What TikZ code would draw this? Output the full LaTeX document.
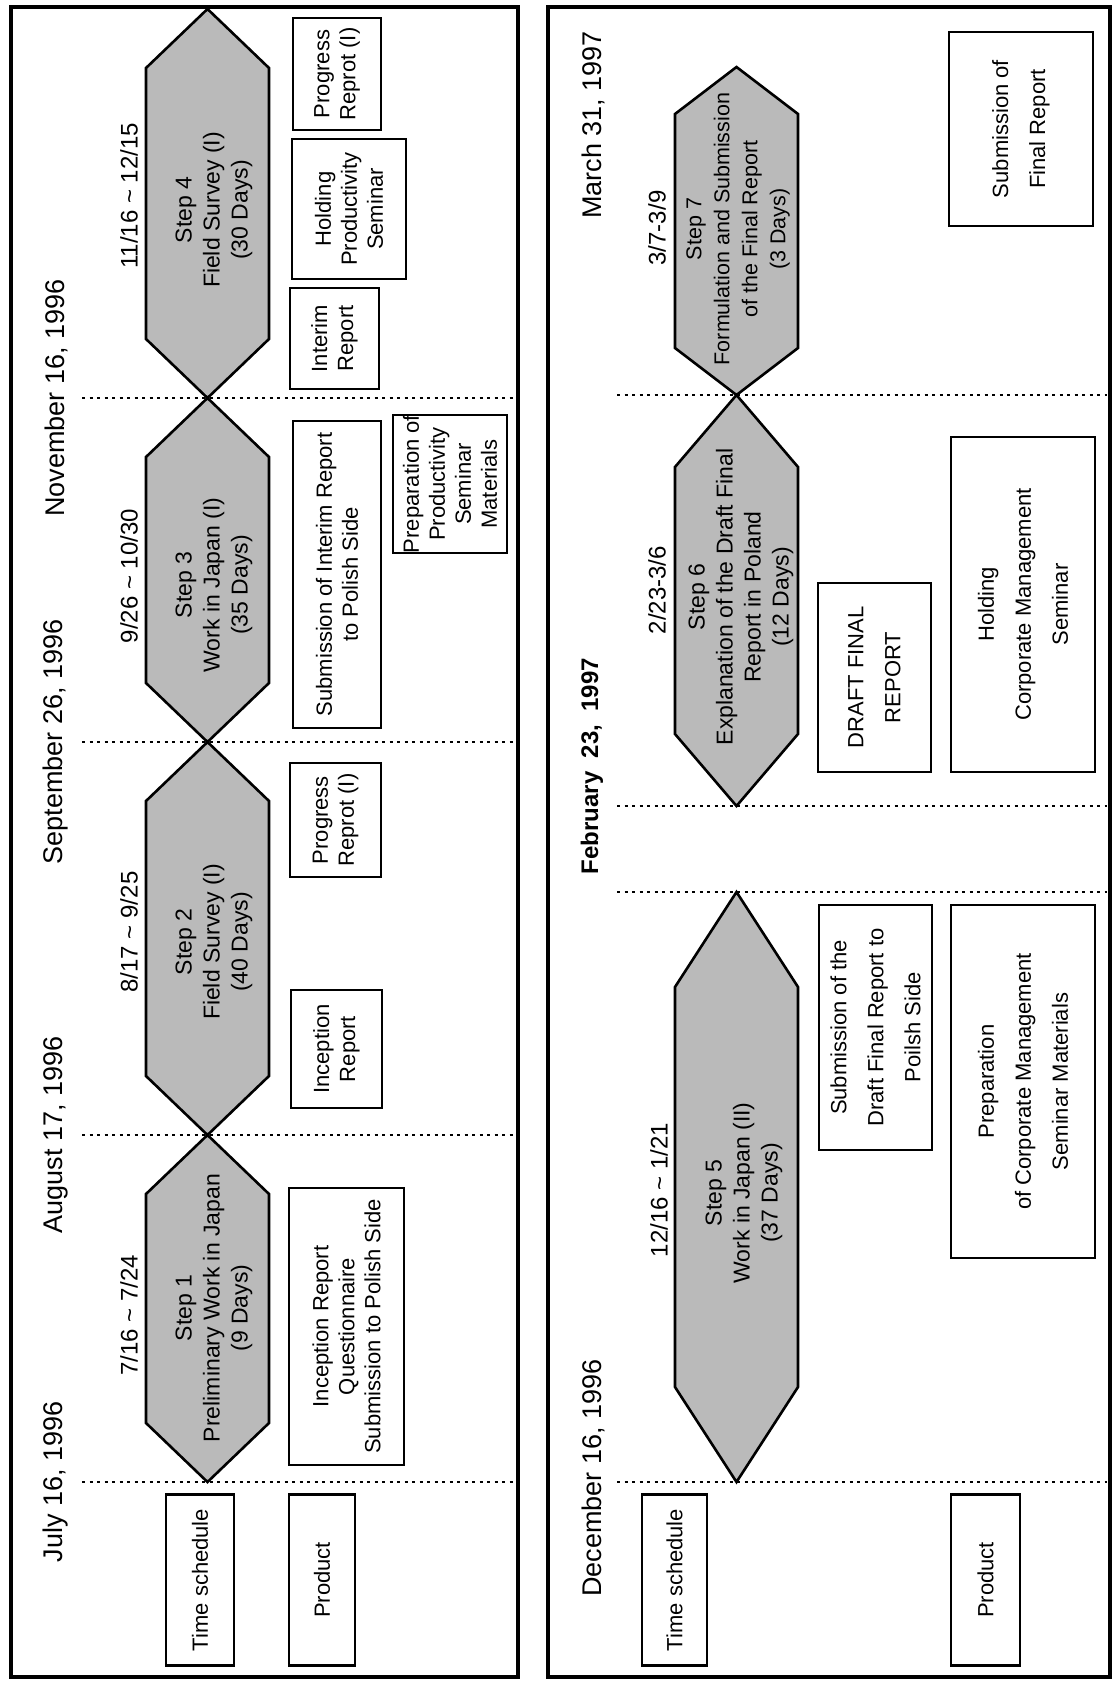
\documentclass[tikz,border=0pt]{standalone}
\usepackage{fontspec}
\setmainfont{Liberation Sans}
\newcommand\hexpath[4]{%
  \draw[hexstyle] (#1,#2) -- (#1+61.5,#2+#4) -- (#1+61.5,#3-#4) -- (#1,#3)
    -- (#1-61.5,#3-#4) -- (#1-61.5,#2+#4) -- cycle;}
\begin{document}
\begin{tikzpicture}[x=1pt,y=-1pt,
  frame/.style={line width=4pt},
  gridline/.style={line width=2.2pt, dash pattern=on 3pt off 4.5pt},
  hexstyle/.style={draw=black, line width=2.6pt, fill=black!27, line join=miter},
  hextext/.style={rotate=90, align=center, font=\fontsize{23}{28}\selectfont, inner sep=0pt},
  datetext/.style={rotate=90, font=\fontsize{27}{31}\selectfont, inner sep=0pt},
  rangetext/.style={rotate=90, font=\fontsize{24}{28}\selectfont, inner sep=0pt},
  pbox/.style={draw, line width=2.4pt, rotate=90, align=center, inner sep=0pt, font=\fontsize{22}{26}\selectfont},
  rbox/.style={pbox, font=\fontsize{22}{37}\selectfont}]
\fill[white] (0,0) rectangle (1117,1686);
\useasboundingbox (0,0) rectangle (1117,1686);
% frames
\draw[frame] (11,7) rectangle (518,1677);
\draw[frame] (548,7) rectangle (1110,1677);
% hexagons left
\hexpath{207.5}{1135}{1482}{59}
\hexpath{207.5}{742}{1135}{59}
\hexpath{207.5}{398}{742}{59}
\hexpath{207.5}{9}{398}{59}
% hexagons right
\hexpath{736.5}{892}{1482}{95}
\hexpath{736.5}{395}{806}{72}
\hexpath{736.5}{67}{395}{47}
% dotted lines
\foreach \yy in {1482,1135,742,398} \draw[gridline] (82,\yy) -- (515,\yy);
\foreach \yy in {1482,892,806,395} \draw[gridline] (617,\yy) -- (1107,\yy);
% dates
\node[datetext] (d1) at (56,1482) {July 16, 1996};
\node[datetext] (d2) at (56,1135) {August 17, 1996};
\node[datetext] (d3) at (56,742) {September 26, 1996};
\node[datetext] (d4) at (56,398) {November 16, 1996};
\node[datetext] (d5) at (593,1478) {December 16, 1996};
\node[datetext, font=\fontsize{24}{28}\selectfont\bfseries] (d6) at (592,766) {February\ \ 23,\ \ 1997};
\node[datetext] (d7) at (593,125) {March 31, 1997};
% ranges
\node[rangetext] (r1) at (129,1315) {7/16 \textasciitilde\ 7/24};
\node[rangetext] (r2) at (129,932) {8/17 \textasciitilde\ 9/25};
\node[rangetext] (r3) at (129,576) {9/26 \textasciitilde\ 10/30};
\node[rangetext] (r4) at (129,196) {11/16 \textasciitilde\ 12/15};
\node[rangetext] (r5) at (659,1190) {12/16 \textasciitilde\ 1/21};
\node[rangetext] (r6) at (657,590) {2/23-3/6};
\node[rangetext] (r7) at (657,228) {3/7-3/9};
% step texts
\node[hextext] (s1) at (214,1308) {Step 1\\Preliminary Work in Japan\\(9 Days)};
\node[hextext] (s2) at (214,942) {Step 2\\Field Survey (I)\\(40 Days)};
\node[hextext] (s3) at (214,585) {Step 3\\Work in Japan (I)\\(35 Days)};
\node[hextext] (s4) at (214,210) {Step 4\\Field Survey (I)\\(30 Days)};
\node[hextext] (s5) at (744,1193) {Step 5\\Work in Japan (II)\\(37 Days)};
\node[hextext] (s6) at (741,597) {Step 6\\Explanation of the Draft Final\\Report in Poland\\(12 Days)};
\node[hextext, font=\fontsize{21.5}{28}\selectfont] (s7) at (738,229) {Step 7\\Formulation and Submission\\of the Final Report\\(3 Days)};
% left boxes
\node[pbox, minimum width=171pt, minimum height=68pt] (ts1) at (200,1580) {Time schedule};
\node[pbox, minimum width=171pt, minimum height=66pt] (pr1) at (322,1580) {Product};
\node[pbox, minimum width=277pt, minimum height=115pt] (b1) at (346.5,1326.5) {Inception Report\\Questionnaire\\Submission to Polish Side};
\node[pbox, minimum width=118pt, minimum height=91pt] (b2) at (336.5,1049) {Inception\\Report};
\node[pbox, minimum width=114pt, minimum height=91pt] (b3) at (335.5,820) {Progress\\Reprot (I)};
\node[pbox, minimum width=307pt, minimum height=88pt] (b4) at (337,574.5) {Submission of Interim Report\\to Polish Side};
\node[pbox, minimum width=126pt, minimum height=114pt] (b5) at (450,484) {Preparation of\\Productivity\\Seminar\\Materials};
\node[pbox, minimum width=101pt, minimum height=89pt] (b6) at (334.5,338.5) {Interim\\Report};
\node[pbox, minimum width=140pt, minimum height=114pt] (b7) at (349,209) {Holding\\Productivity\\Seminar};
\node[pbox, minimum width=112pt, minimum height=88pt] (b8) at (337,74) {Progress\\Reprot (I)};
% right boxes
\node[pbox, minimum width=171pt, minimum height=65pt] (ts2) at (674.5,1580) {Time schedule};
\node[pbox, minimum width=171pt, minimum height=69pt] (pr2) at (985.5,1580) {Product};
\node[rbox, minimum width=245pt, minimum height=113pt] (c1) at (875.5,1027.5) {Submission of the\\Draft Final Report to\\Poilsh Side};
\node[rbox, minimum width=353pt, minimum height=144pt] (c2) at (1023,1081.5) {Preparation\\of Corporate Management\\Seminar Materials};
\node[rbox, minimum width=189pt, minimum height=113pt] (c3) at (874.5,677.5) {DRAFT FINAL\\REPORT};
\node[rbox, minimum width=335pt, minimum height=144pt] (c4) at (1023,604.5) {Holding\\Corporate Management\\Seminar};
\node[rbox, minimum width=194pt, minimum height=144pt] (c5) at (1021,129) {Submission of\\Final Report};
\end{tikzpicture}
\end{document}
